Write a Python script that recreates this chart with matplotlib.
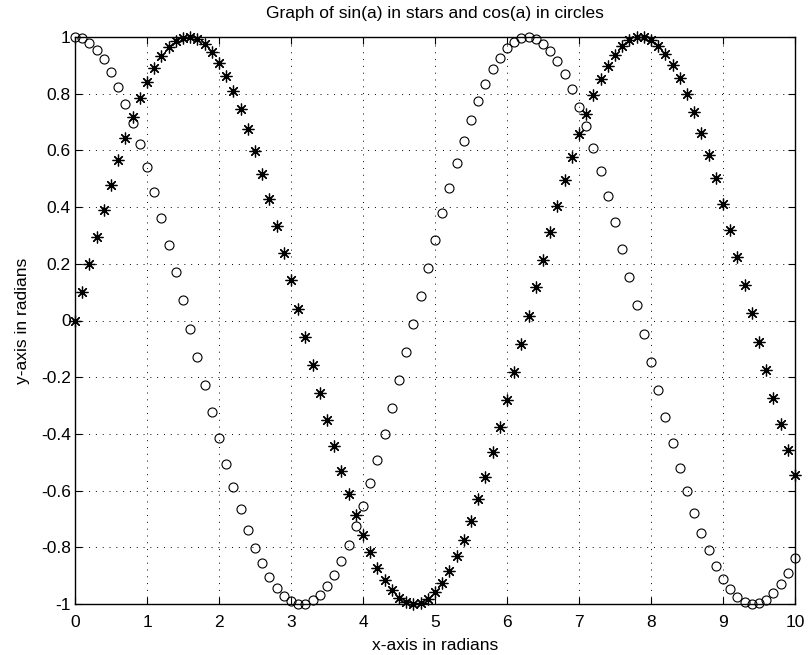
import matplotlib
matplotlib.use("Agg")
import matplotlib.pyplot as plt

plt.rcParams['font.family'] = ['Liberation Sans', 'DejaVu Sans']

a_vals = [0.0, 0.1, 0.2, 0.3, 0.4, 0.5, 0.6, 0.7, 0.8, 0.9,
          1.0, 1.1, 1.2, 1.3, 1.4, 1.5, 1.6, 1.7, 1.8, 1.9,
          2.0, 2.1, 2.2, 2.3, 2.4, 2.5, 2.6, 2.7, 2.8, 2.9,
          3.0, 3.1, 3.2, 3.3, 3.4, 3.5, 3.6, 3.7, 3.8, 3.9,
          4.0, 4.1, 4.2, 4.3, 4.4, 4.5, 4.6, 4.7, 4.8, 4.9,
          5.0, 5.1, 5.2, 5.3, 5.4, 5.5, 5.6, 5.7, 5.8, 5.9,
          6.0, 6.1, 6.2, 6.3, 6.4, 6.5, 6.6, 6.7, 6.8, 6.9,
          7.0, 7.1, 7.2, 7.3, 7.4, 7.5, 7.6, 7.7, 7.8, 7.9,
          8.0, 8.1, 8.2, 8.3, 8.4, 8.5, 8.6, 8.7, 8.8, 8.9,
          9.0, 9.1, 9.2, 9.3, 9.4, 9.5, 9.6, 9.7, 9.8, 9.9,
          10.0]

sin_vals = [0.0, 0.0998, 0.1987, 0.2955, 0.3894, 0.4794, 0.5646, 0.6442, 0.7174, 0.7833,
            0.8415, 0.8912, 0.9320, 0.9636, 0.9854, 0.9975, 0.9996, 0.9917, 0.9738, 0.9463,
            0.9093, 0.8632, 0.8085, 0.7457, 0.6755, 0.5985, 0.5155, 0.4274, 0.3350, 0.2392,
            0.1411, 0.0416, -0.0584, -0.1577, -0.2555, -0.3508, -0.4425, -0.5298, -0.6119, -0.6878,
            -0.7568, -0.8183, -0.8716, -0.9162, -0.9516, -0.9775, -0.9937, -0.9999, -0.9962, -0.9825,
            -0.9589, -0.9258, -0.8835, -0.8323, -0.7728, -0.7055, -0.6313, -0.5507, -0.4646, -0.3739,
            -0.2794, -0.1822, -0.0831, 0.0168, 0.1165, 0.2151, 0.3115, 0.4048, 0.4941, 0.5784,
            0.6570, 0.7290, 0.7937, 0.8504, 0.8987, 0.9380, 0.9679, 0.9882, 0.9985, 0.9989,
            0.9894, 0.9699, 0.9407, 0.9022, 0.8546, 0.7985, 0.7344, 0.6630, 0.5849, 0.5010,
            0.4121, 0.3191, 0.2229, 0.1245, 0.0248, -0.0752, -0.1743, -0.2718, -0.3665, -0.4575,
            -0.5440]

cos_vals = [1.0, 0.9950, 0.9801, 0.9553, 0.9211, 0.8776, 0.8253, 0.7648, 0.6967, 0.6216,
            0.5403, 0.4536, 0.3624, 0.2675, 0.1700, 0.0707, -0.0292, -0.1288, -0.2272, -0.3233,
            -0.4161, -0.5048, -0.5885, -0.6663, -0.7374, -0.8011, -0.8569, -0.9041, -0.9422, -0.9710,
            -0.9900, -0.9991, -0.9983, -0.9875, -0.9668, -0.9365, -0.8968, -0.8481, -0.7910, -0.7259,
            -0.6536, -0.5748, -0.4903, -0.4008, -0.3073, -0.2108, -0.1122, -0.0124, 0.0875, 0.1865,
            0.2837, 0.3780, 0.4685, 0.5544, 0.6347, 0.7087, 0.7756, 0.8347, 0.8855, 0.9275,
            0.9602, 0.9833, 0.9965, 0.9999, 0.9932, 0.9766, 0.9502, 0.9144, 0.8694, 0.8157,
            0.7539, 0.6845, 0.6084, 0.5261, 0.4385, 0.3466, 0.2513, 0.1534, 0.0540, -0.0460,
            -0.1455, -0.2435, -0.3392, -0.4314, -0.5193, -0.6020, -0.6787, -0.7486, -0.8111, -0.8654,
            -0.9111, -0.9477, -0.9748, -0.9922, -0.9997, -0.9972, -0.9847, -0.9624, -0.9304, -0.8892,
            -0.8391]

x_ticks = [0, 1, 2, 3, 4, 5, 6, 7, 8, 9, 10]
x_tick_labels = ['0', '1', '2', '3', '4', '5', '6', '7', '8', '9', '10']
y_ticks = [-1, -0.8, -0.6, -0.4, -0.2, 0, 0.2, 0.4, 0.6, 0.8, 1]
y_tick_labels = ['-1', '-0.8', '-0.6', '-0.4', '-0.2', '0', '0.2', '0.4', '0.6', '0.8', '1']

fig = plt.figure(figsize=(8.09, 6.55), dpi=100)
ax = fig.add_axes([75/809, 51/655, 720/809, 567/655])

ax.plot(a_vals, sin_vals, linestyle='none', marker=(8, 2, 0), markersize=8.5,
        markeredgecolor='black', markeredgewidth=0.9, color='black', clip_on=False)
ax.plot(a_vals, cos_vals, linestyle='none', marker='o', markersize=6.5,
        markerfacecolor='none', markeredgecolor='black', markeredgewidth=0.8, clip_on=False)

ax.set_xlim(0, 10)
ax.set_ylim(-1, 1)
ax.set_xticks(x_ticks)
ax.set_xticklabels(x_tick_labels)
ax.set_yticks(y_ticks)
ax.set_yticklabels(y_tick_labels)
ax.grid(True, linestyle=(0, (1, 6)), color='black', linewidth=0.7)
ax.tick_params(direction='in', top=True, right=True, length=5, width=0.8,
               labelsize=12.5)
ax.tick_params(axis='x', pad=8)
ax.tick_params(axis='y', pad=3)
for s in ax.spines.values():
    s.set_linewidth(1.0)

ax.set_title('Graph of sin(a) in stars and cos(a) in circles', fontsize=12.5, pad=14)
ax.set_xlabel('x-axis in radians', fontsize=12.5, labelpad=6)
ax.set_ylabel('y-axis in radians', fontsize=12.5, labelpad=8)

fig.savefig('out.png', dpi=100)
